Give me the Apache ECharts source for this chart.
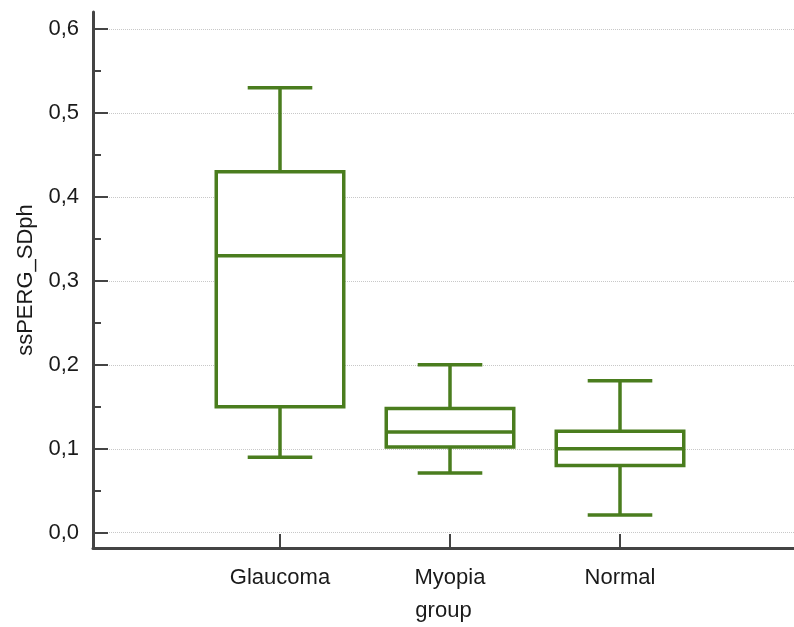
<!DOCTYPE html>
<html>
<head>
<meta charset="utf-8">
<script src="https://cdn.jsdelivr.net/npm/echarts@6/dist/echarts.min.js"></script>
<style>
  html, body { margin: 0; padding: 0; background: #fff; }
  #main { width: 794px; height: 627px; }
</style>
</head>
<body>
<div id="main"></div>
<script>
// groups and box statistics
var groups = ['Glaucoma', 'Myopia', 'Normal'];
var whiskerLow = [0.09, 0.071, 0.021];
var q1 = [0.15, 0.102, 0.080];
var median = [0.33, 0.12, 0.10];
var q3 = [0.43, 0.148, 0.121];
var whiskerHigh = [0.53, 0.20, 0.181];
var yTicks = [0, 0.1, 0.2, 0.3, 0.4, 0.5, 0.6];
var yMinorTicks = [0.05, 0.15, 0.25, 0.35, 0.45, 0.55];
var xPos = [1, 2, 3];

var green = '#4a7d1e';
var axisColor = '#444';
var textColor = '#1a1a1a';
var font = 'Liberation Sans, Arial, sans-serif';

var boxData = [];
for (var i = 0; i < groups.length; i++) {
    boxData.push([xPos[i], whiskerLow[i], q1[i], median[i], q3[i], whiskerHigh[i]]);
}

function renderBox(params, api) {
    var x = api.value(0);
    var unit = api.size([1, 0])[0];
    var half = unit * 0.375;
    var cap = unit * 0.19;
    var pLow = api.coord([x, api.value(1)]);
    var pQ1 = api.coord([x, api.value(2)]);
    var pMed = api.coord([x, api.value(3)]);
    var pQ3 = api.coord([x, api.value(4)]);
    var pHigh = api.coord([x, api.value(5)]);
    var cx = pMed[0];
    var style = { stroke: green, lineWidth: 3.5, fill: null };
    return {
        type: 'group',
        children: [
            { type: 'rect', shape: { x: cx - half, y: pQ3[1], width: half * 2, height: pQ1[1] - pQ3[1] }, style: { stroke: green, lineWidth: 3.5, fill: '#fff' } },
            { type: 'line', shape: { x1: cx - half, y1: pMed[1], x2: cx + half, y2: pMed[1] }, style: style },
            { type: 'line', shape: { x1: cx, y1: pQ3[1], x2: cx, y2: pHigh[1] }, style: style },
            { type: 'line', shape: { x1: cx, y1: pQ1[1], x2: cx, y2: pLow[1] }, style: style },
            { type: 'line', shape: { x1: cx - cap, y1: pHigh[1], x2: cx + cap, y2: pHigh[1] }, style: style },
            { type: 'line', shape: { x1: cx - cap, y1: pLow[1], x2: cx + cap, y2: pLow[1] }, style: style }
        ]
    };
}

var myChart = echarts.init(document.getElementById('main'));
var option = {
    backgroundColor: '#fff',
    animation: false,
    grid: { left: 93, right: 0, top: 12, bottom: 79, outerBoundsMode: 'none' },
    xAxis: {
        type: 'value',
        min: -0.1,
        max: 4.0235,
        name: 'group',
        nameLocation: 'middle',
        nameGap: 52,
        nameTextStyle: { fontSize: 22, fontFamily: font, color: textColor },
        axisLine: { show: true, onZero: false, lineStyle: { color: axisColor, width: 3 } },
        axisTick: { show: true, inside: true, length: 14, customValues: xPos, lineStyle: { color: axisColor, width: 2 } },
        axisLabel: {
            customValues: xPos,
            margin: 19,
            fontSize: 22, fontFamily: font, color: textColor,
            formatter: function (v) { return groups[Math.round(v) - 1] || ''; }
        },
        splitLine: { show: false }
    },
    yAxis: [{
        type: 'value',
        position: 'left',
        min: -0.0182,
        max: 0.6203,
        name: 'ssPERG_SDph',
        nameLocation: 'middle',
        nameRotate: 90,
        nameGap: 56,
        nameTextStyle: { fontSize: 22, fontFamily: font, color: textColor },
        axisLine: { show: true, onZero: false, lineStyle: { color: axisColor, width: 3 } },
        axisTick: { show: true, inside: true, length: 15, customValues: yTicks, lineStyle: { color: axisColor, width: 2 } },
        axisLabel: {
            customValues: yTicks,
            margin: 14,
            fontSize: 22, fontFamily: font, color: textColor,
            formatter: function (v) { return v.toFixed(1).replace('.', ','); }
        },
        splitLine: { show: true, lineStyle: { color: '#c8c8c8', width: 1, type: 'dotted' } }
    }, {
        type: 'value',
        position: 'left',
        offset: 0,
        min: -0.0182,
        max: 0.6203,
        axisLine: { show: false, onZero: false },
        axisTick: { show: true, inside: true, length: 8, customValues: yMinorTicks, lineStyle: { color: axisColor, width: 2 } },
        axisLabel: { show: false },
        splitLine: { show: false }
    }],
    series: [{
        type: 'custom',
        renderItem: renderBox,
        encode: { x: 0, y: [1, 2, 3, 4, 5] },
        data: boxData,
        z: 10
    }]
};
myChart.setOption(option);
</script>
</body>
</html>
